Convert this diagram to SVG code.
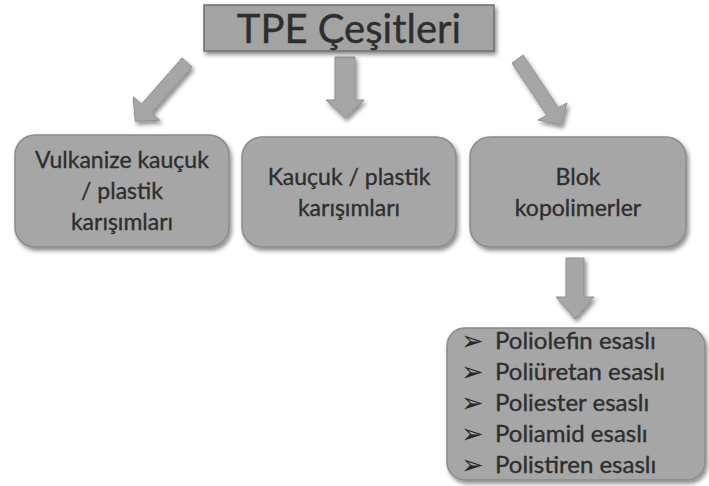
<svg xmlns="http://www.w3.org/2000/svg" width="709" height="486" viewBox="0 0 709 486">
<defs>
<filter id="sh" x="-20%" y="-20%" width="140%" height="140%">
<feDropShadow dx="2" dy="3" stdDeviation="2" flood-color="#000" flood-opacity="0.45"/>
</filter>
<style>
.box{fill:#a6a6a6;stroke:#8a8a8a;stroke-width:1.5;filter:url(#sh)}
.arr{fill:#a6a6a6;stroke:#8f8f8f;stroke-width:1;filter:url(#sh)}
.t{font-family:Lato,"Open Sans","Liberation Sans",sans-serif;fill:#2e2e2e;stroke:#2e2e2e;stroke-width:0.35;text-anchor:middle}
.b{font-family:Lato,"Open Sans","Liberation Sans",sans-serif;fill:#2e2e2e;stroke:#2e2e2e;stroke-width:0.35;font-size:24px}
.bul{font-family:"DejaVu Sans",sans-serif;fill:#262626;font-size:27px}
</style>
</defs>
<rect width="709" height="486" fill="#ffffff"/>
<g id="connectors">
<polygon class="arr" points="182,58 192,67 151.5,112.9 159.8,120.2 135.3,121.3 133.2,96.8 141.5,104.1"/>
<polygon class="arr" points="335,57 355,57 355,100 364,100 345,118 326,100 335,100"/>
<polygon class="arr" points="523,55 558.1,107.7 567,103 561.4,124.8 538,120 546.9,115.3 512,63"/>
<polygon class="arr" points="566,258 584,258 584,297 594,297 575,319 556,297 566,297"/>
</g>
<g id="title">
<rect x="204" y="5" width="290" height="46" fill="#a3a3a3" stroke="#6e6e6e" stroke-width="1.5" filter="url(#sh)"/>
<text class="t" x="349" y="43" font-size="40">TPE Çeşitleri</text>
</g>
<g id="n1">
<rect class="box" x="15" y="135" width="214" height="112" rx="20"/>
<text class="t" x="122" y="168" font-size="23">Vulkanize kauçuk</text>
<text class="t" x="122" y="199" font-size="23">/ plastik</text>
<text class="t" x="122" y="230" font-size="23">karışımları</text>
</g>
<g id="n2">
<rect class="box" x="242" y="137" width="214" height="110" rx="20"/>
<text class="t" x="349" y="185" font-size="23">Kauçuk / plastik</text>
<text class="t" x="349" y="216" font-size="23">karışımları</text>
</g>
<g id="n3">
<rect class="box" x="470" y="137" width="216" height="110" rx="20"/>
<text class="t" x="578" y="185" font-size="23">Blok</text>
<text class="t" x="578" y="216" font-size="23">kopolimerler</text>
</g>
<g id="n4">
<rect class="box" x="447" y="328" width="258" height="152" rx="18"/>
<text class="bul" x="461" y="350">➢</text>
<text class="b" x="495" y="349">Poliolefin esaslı</text>
<text class="bul" x="461" y="381">➢</text>
<text class="b" x="495" y="380">Poliüretan esaslı</text>
<text class="bul" x="461" y="412">➢</text>
<text class="b" x="495" y="411">Poliester esaslı</text>
<text class="bul" x="461" y="443">➢</text>
<text class="b" x="495" y="442">Poliamid esaslı</text>
<text class="bul" x="461" y="474">➢</text>
<text class="b" x="495" y="473">Polistiren esaslı</text>
</g>
</svg>
